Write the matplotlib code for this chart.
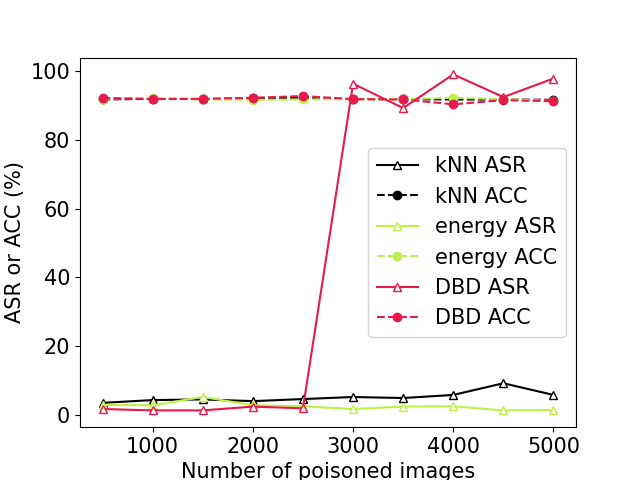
import numpy as np
import matplotlib
matplotlib.use("Agg")
import matplotlib.pyplot as plt

num_poisoned = [500, 1000, 1500, 2000, 2500, 3000, 3500, 4000, 4500, 5000]

knn_asr = [3.5, 4.3, 4.5, 4.0, 4.6, 5.2, 4.9, 5.8, 9.2, 5.8]
knn_acc = [91.8, 92.0, 91.9, 92.1, 92.3, 91.9, 91.9, 91.8, 91.8, 91.7]
energy_asr = [2.9, 2.8, 5.2, 2.8, 2.5, 1.7, 2.4, 2.5, 1.3, 1.4]
energy_acc = [92.0, 92.3, 91.8, 91.7, 91.8, 91.9, 91.9, 92.3, 91.9, 91.4]
dbd_asr = [1.7, 1.3, 1.3, 2.4, 1.9, 96.4, 89.3, 99.1, 92.5, 97.9]
dbd_acc = [92.3, 91.9, 92.0, 92.3, 92.8, 91.9, 91.8, 90.4, 91.6, 91.3]

black = "black"
lime = "#bff04a"
crimson = "#e8194b"

plt.rcParams['font.size'] = 15
fig, ax = plt.subplots(figsize=(6.4, 4.8), dpi=100)

ax.plot(num_poisoned, knn_asr, '-', marker='^', color=black, mfc='white', label='kNN ASR')
ax.plot(num_poisoned, knn_acc, '--', marker='o', color=black, label='kNN ACC')
ax.plot(num_poisoned, energy_asr, '-', marker='^', color=lime, mfc='white', label='energy ASR')
ax.plot(num_poisoned, energy_acc, '--', marker='o', color=lime, label='energy ACC')
ax.plot(num_poisoned, dbd_asr, '-', marker='^', color=crimson, mfc='white', label='DBD ASR')
ax.plot(num_poisoned, dbd_acc, '--', marker='o', color=crimson, label='DBD ACC')

ax.set_xlabel('Number of poisoned images')
ax.set_ylabel('ASR or ACC (%)')
ax.legend(loc='center right')

plt.savefig('out.png')
